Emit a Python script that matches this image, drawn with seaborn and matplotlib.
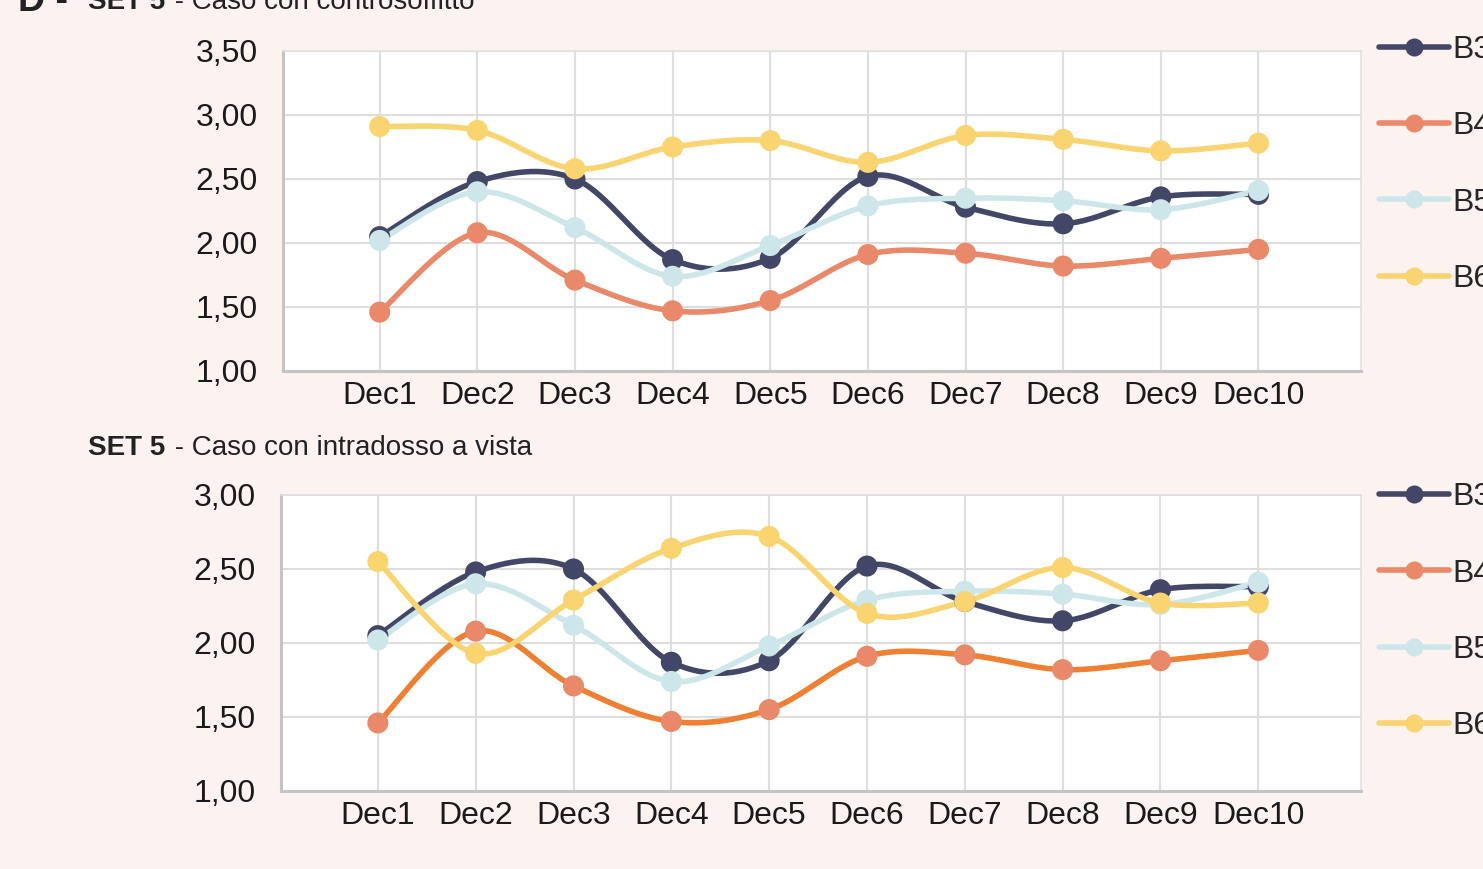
import numpy as np
import pandas as pd
import seaborn as sns
import matplotlib.pyplot as plt
from matplotlib.lines import Line2D

# data
decs = ["Dec1", "Dec2", "Dec3", "Dec4", "Dec5", "Dec6", "Dec7", "Dec8", "Dec9", "Dec10"]
b3 = [2.05, 2.48, 2.50, 1.87, 1.88, 2.52, 2.28, 2.15, 2.36, 2.38]
b4 = [1.46, 2.08, 1.71, 1.47, 1.55, 1.91, 1.92, 1.82, 1.88, 1.95]
b5 = [2.02, 2.40, 2.12, 1.74, 1.98, 2.29, 2.35, 2.33, 2.26, 2.41]
b6_top = [2.91, 2.88, 2.58, 2.75, 2.80, 2.63, 2.84, 2.81, 2.72, 2.78]
b6_bottom = [2.55, 1.93, 2.29, 2.64, 2.72, 2.20, 2.28, 2.51, 2.27, 2.27]
series_names = ["B3", "B4", "B5", "B6"]

navy = "#434767"
salmon = "#e9896a"
orange = "#ee7f33"
lightblue = "#cde6ea"
yellow = "#f9d470"
bg = "#fcf3f1"


def smooth(y, steps=30):
    # excel-like smoothed line (bezier through the points)
    y = np.asarray(y, dtype=float)
    x = np.arange(len(y), dtype=float)
    px = np.concatenate([[x[0]], x, [x[-1]]])
    py = np.concatenate([[y[0]], y, [y[-1]]])
    xs, ys = [], []
    t = np.linspace(0, 1, steps)
    for i in range(1, len(px) - 2):
        p0 = np.array([px[i], py[i]])
        p3 = np.array([px[i + 1], py[i + 1]])
        c1 = p0 + (np.array([px[i + 1], py[i + 1]]) - np.array([px[i - 1], py[i - 1]])) / 6
        c2 = p3 - (np.array([px[i + 2], py[i + 2]]) - np.array([px[i], py[i]])) / 6
        pts = ((1 - t) ** 3)[:, None] * p0 + (3 * (1 - t) ** 2 * t)[:, None] * c1 \
            + (3 * (1 - t) * t ** 2)[:, None] * c2 + (t ** 3)[:, None] * p3
        xs.extend(pts[:, 0])
        ys.extend(pts[:, 1])
    return np.array(xs), np.array(ys)


sns.set_theme(style="whitegrid")
plt.rcParams['font.family'] = ['Liberation Sans', 'DejaVu Sans']

W, H = 1483, 869
fig = plt.figure(figsize=(W / 100, H / 100), dpi=100, facecolor=bg)

ax1 = fig.add_axes([283 / W, 1 - 371 / H, (1361 - 283) / W, (371 - 51) / H])
ax2 = fig.add_axes([281 / W, 1 - 791 / H, (1361 - 281) / W, (791 - 495) / H])

panels = [
    (ax1, [b3, b4, b5, b6_top], [navy, salmon, lightblue, yellow], [1.0, 1.5, 2.0, 2.5, 3.0, 3.5]),
    (ax2, [b3, b4, b5, b6_bottom], [navy, orange, lightblue, yellow], [1.0, 1.5, 2.0, 2.5, 3.0]),
]
marker_cols = [navy, salmon, lightblue, yellow]

for ax, data, line_cols, yticks in panels:
    ax.set_facecolor("white")
    for name, vals, lc, mc in zip(series_names, data, line_cols, marker_cols):
        xs, ys = smooth(vals)
        sns.lineplot(x=xs, y=ys, ax=ax, color=lc, linewidth=4.0, sort=False, estimator=None)
        sns.scatterplot(x=np.arange(len(vals)), y=vals, ax=ax, color=mc, s=230,
                        edgecolor="none", zorder=3)
    ax.set_xlim(-0.99, 10.05)
    ax.set_ylim(yticks[0], yticks[-1])
    ax.set_xticks(range(len(decs)))
    ax.set_xticklabels(decs)
    ax.set_yticks(yticks)
    ax.set_yticklabels([f"{v:.2f}".replace(".", ",") for v in yticks])
    ax.tick_params(axis="both", length=0, labelsize=23, colors="#1a1a1a")
    ax.tick_params(axis="y", pad=18)
    ax.tick_params(axis="x", pad=7)
    ax.grid(True, color="#dedede", linewidth=1.5)
    for s in ["top", "right"]:
        ax.spines[s].set_color("#e0e0e0")
        ax.spines[s].set_linewidth(1.2)
    for s in ["left", "bottom"]:
        ax.spines[s].set_color("#c4c4c4")
        ax.spines[s].set_linewidth(2.2)
    ax.set_xlabel("")
    ax.set_ylabel("")

    handles = [Line2D([0], [0], color=mc, linewidth=4.0, marker="o", markersize=13,
                      markeredgecolor="none") for mc in marker_cols]
    ax.legend(handles, series_names, loc="upper left", bbox_to_anchor=(0.99, 1.14),
              frameon=False, fontsize=23, handlelength=2.2, handletextpad=0.1,
              labelspacing=1.45, borderaxespad=0.5)

# titles (bold part + regular part)
fig.canvas.draw()
renderer = fig.canvas.get_renderer()


def title(x, y, bold, rest, size=20):
    t = fig.text(x / W, 1 - y / H, bold, fontsize=size, fontweight="bold",
                 color="#222222", va="center")
    bb = t.get_window_extent(renderer)
    fig.text((bb.x1 + 2) / W, 1 - y / H, rest, fontsize=size, color="#222222", va="center")


fig.text(18 / W, 1 - 1 / H, "D -", fontsize=27, fontweight="bold", color="#222222", va="center")
title(88, 2, "SET 5", " - Caso con controsoffitto")
title(88, 448, "SET 5", " - Caso con intradosso a vista")

fig.savefig("out.png", dpi=100, facecolor=bg)
